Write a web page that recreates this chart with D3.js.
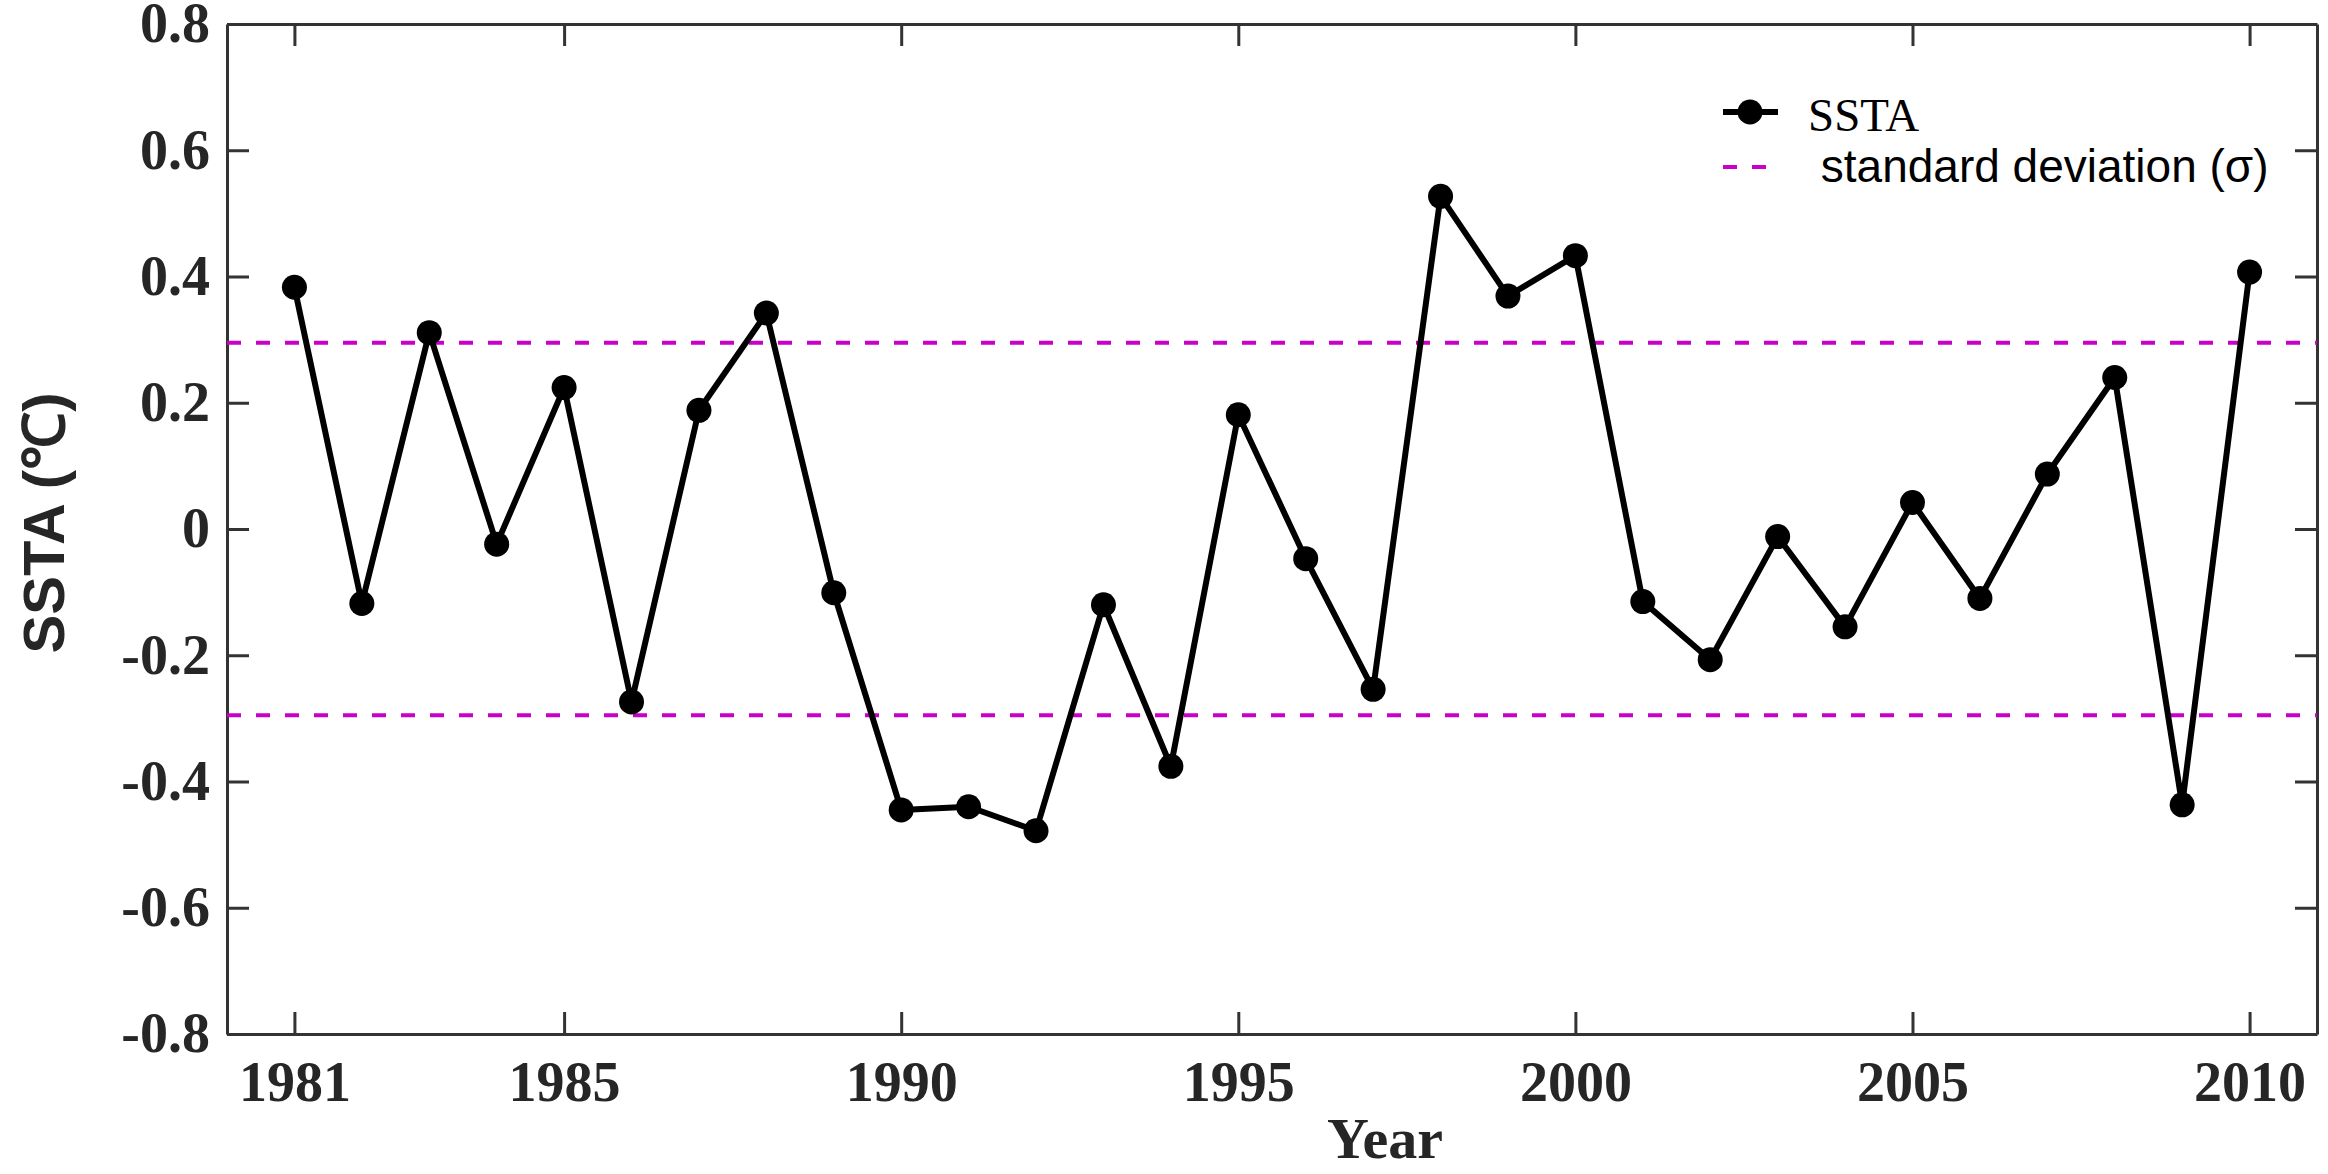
<!DOCTYPE html>
<html>
<head>
<meta charset="utf-8">
<script src="https://cdn.jsdelivr.net/npm/d3@7"></script>
<style>
  body { margin: 0; background: #fff; }
  svg { display: block; }
</style>
</head>
<body>
<script>
// data
const years = d3.range(1981, 2011);
const ssta = [0.383, -0.118, 0.311, -0.024, 0.224, -0.274, 0.188, 0.342, -0.101, -0.445,
              -0.44, -0.478, -0.12, -0.376, 0.181, -0.047, -0.254, 0.527, 0.369, 0.433,
              -0.115, -0.207, -0.012, -0.155, 0.042, -0.11, 0.087, 0.24, -0.437, 0.407];
const sigma = 0.295;
const xTicks = [1981, 1985, 1990, 1995, 2000, 2005, 2010];
const yTicks = [-0.8, -0.6, -0.4, -0.2, 0, 0.2, 0.4, 0.6, 0.8];
const legendLabels = ["SSTA", " standard deviation (\u03c3)"];

const W = 2328, H = 1174;
const margin = { top: 24, right: 11, bottom: 140, left: 227 };
const axisColor = "#333";
const magenta = "#c800c8";

const svg = d3.select("body")
    .append("svg")
    .attr("width", W)
    .attr("height", H);

const x = d3.scaleLinear()
    .domain([1980, 2011])
    .range([margin.left, W - margin.right]);

const y = d3.scaleLinear()
    .domain([-0.8, 0.8])
    .range([H - margin.bottom, margin.top]);

const yFmt = d => d === 0 ? "0" : d.toFixed(1);

// axes (box on, ticks inside)
const styleAxis = g => {
    g.selectAll("path.domain").attr("stroke", axisColor).attr("stroke-width", 3);
    g.selectAll(".tick line").attr("stroke", axisColor).attr("stroke-width", 3);
    g.selectAll(".tick text")
        .attr("fill", "#262626")
        .style("font-family", "'Liberation Serif', 'Times New Roman', serif")
        .style("font-weight", "bold")
        .style("font-size", "56px");
};

svg.append("g")
    .attr("transform", `translate(0,${y(-0.8)})`)
    .call(d3.axisBottom(x).tickValues(xTicks).tickFormat(d3.format("d")).tickSize(-22).tickSizeOuter(0).tickPadding(27))
    .call(styleAxis);

svg.append("g")
    .attr("transform", `translate(0,${y(0.8)})`)
    .call(d3.axisTop(x).tickValues(xTicks).tickFormat("").tickSize(-22).tickSizeOuter(0))
    .call(styleAxis);

svg.append("g")
    .attr("transform", `translate(${x(1980)},0)`)
    .call(d3.axisLeft(y).tickValues(yTicks).tickFormat(yFmt).tickSize(-22).tickSizeOuter(0).tickPadding(17))
    .call(styleAxis);

svg.append("g")
    .attr("transform", `translate(${x(2011)},0)`)
    .call(d3.axisRight(y).tickValues(yTicks).tickFormat("").tickSize(-22).tickSizeOuter(0))
    .call(styleAxis);

// standard deviation lines
svg.selectAll("line.sigma")
    .data([sigma, -sigma])
    .join("line")
    .attr("class", "sigma")
    .attr("x1", x(1980))
    .attr("x2", x(2011))
    .attr("y1", d => y(d))
    .attr("y2", d => y(d))
    .attr("stroke", magenta)
    .attr("stroke-width", 4)
    .attr("stroke-dasharray", "14 15");

// SSTA series
const pts = years.map((yr, i) => ({ year: yr, v: ssta[i] }));

svg.append("path")
    .datum(pts)
    .attr("fill", "none")
    .attr("stroke", "#000")
    .attr("stroke-width", 6)
    .attr("stroke-linejoin", "round")
    .attr("d", d3.line().x(d => x(d.year)).y(d => y(d.v)));

svg.selectAll("circle.pt")
    .data(pts)
    .join("circle")
    .attr("class", "pt")
    .attr("cx", d => x(d.year))
    .attr("cy", d => y(d.v))
    .attr("r", 12.5)
    .attr("fill", "#000");

// axis titles
svg.append("text")
    .attr("x", 1385)
    .attr("y", 1158)
    .attr("text-anchor", "middle")
    .attr("fill", "#262626")
    .style("font-family", "'Liberation Serif', 'Times New Roman', serif")
    .style("font-weight", "bold")
    .style("font-size", "58px")
    .text("Year");

svg.append("text")
    .attr("transform", "translate(64,523) rotate(-90)")
    .attr("text-anchor", "middle")
    .attr("fill", "#262626")
    .style("font-family", "'Liberation Sans', Arial, sans-serif")
    .style("font-weight", "bold")
    .style("font-size", "58px")
    .text("SSTA (\u2103)");

// legend
const lg = svg.append("g");
lg.append("line")
    .attr("x1", 1723).attr("x2", 1778)
    .attr("y1", 112).attr("y2", 112)
    .attr("stroke", "#000").attr("stroke-width", 6);
lg.append("circle")
    .attr("cx", 1750).attr("cy", 112).attr("r", 12.5).attr("fill", "#000");
lg.append("text")
    .attr("x", 1808).attr("y", 131)
    .attr("fill", "#000")
    .style("font-family", "'Liberation Serif', 'Times New Roman', serif")
    .style("font-size", "47px")
    .text(legendLabels[0]);

lg.append("line")
    .attr("x1", 1723).attr("x2", 1778)
    .attr("y1", 167).attr("y2", 167)
    .attr("stroke", magenta).attr("stroke-width", 4)
    .attr("stroke-dasharray", "14 15");
lg.append("text")
    .attr("x", 1808).attr("y", 182)
    .attr("fill", "#000")
    .attr("xml:space", "preserve")
    .style("white-space", "pre")
    .style("font-family", "'Liberation Sans', Arial, sans-serif")
    .style("font-size", "46px")
    .text(legendLabels[1]);
</script>
</body>
</html>
